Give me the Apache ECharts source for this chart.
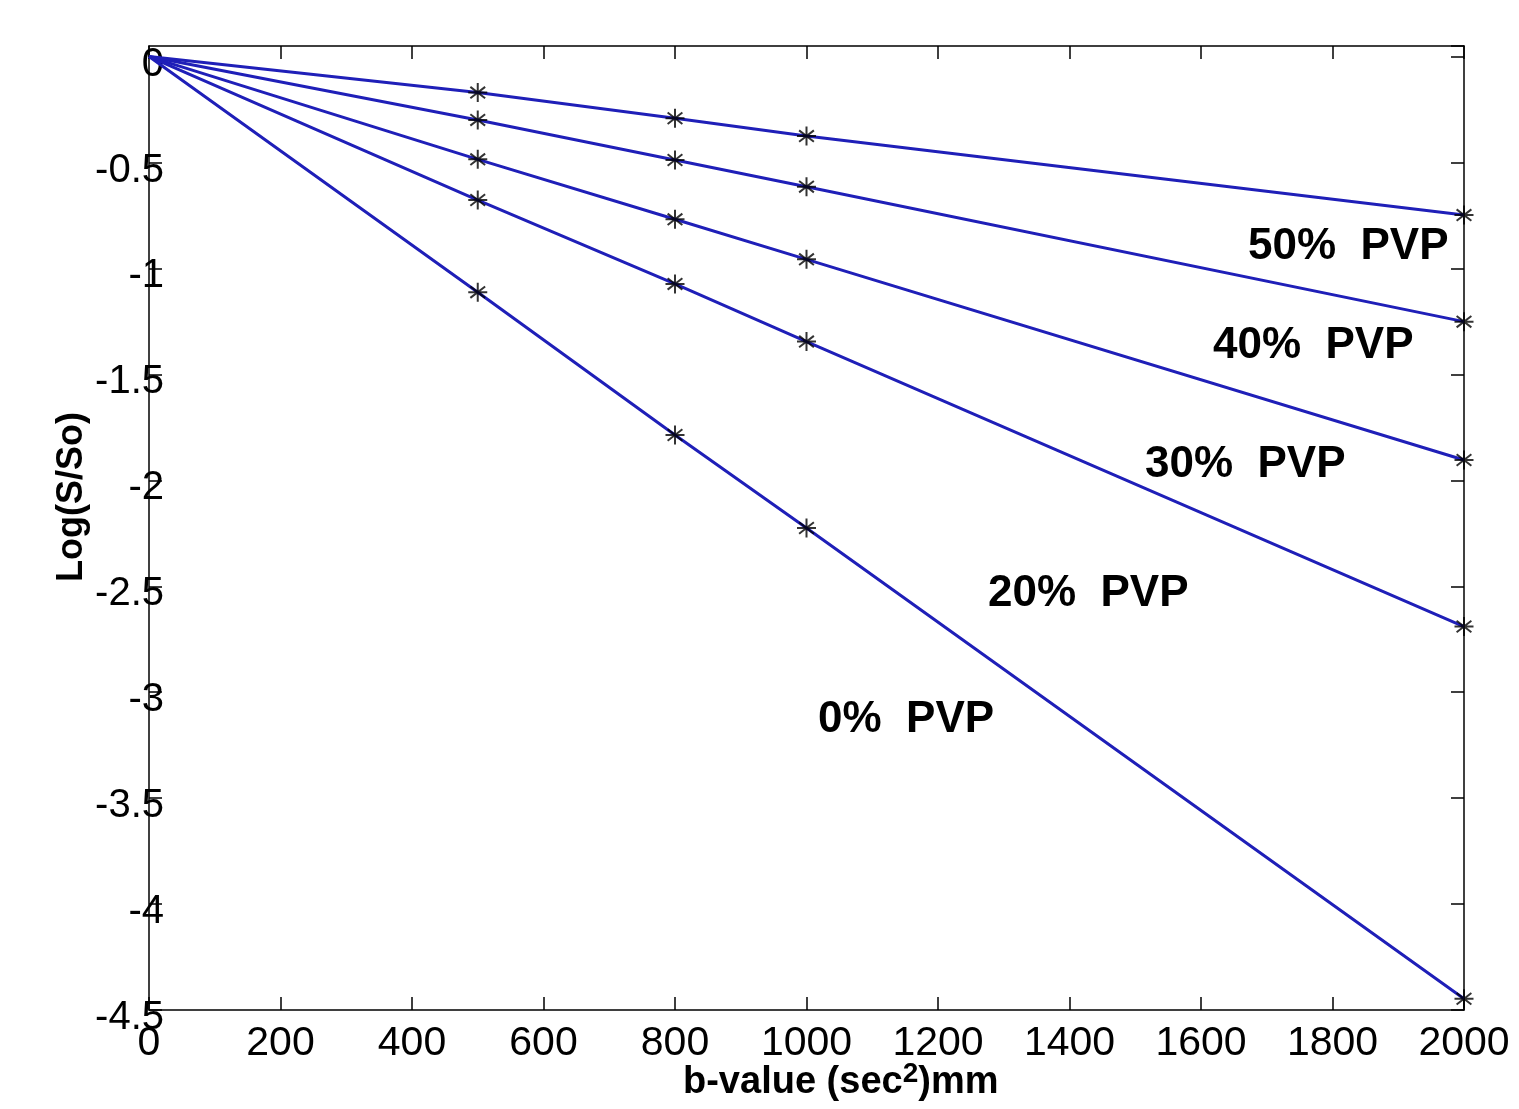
<!DOCTYPE html>
<html>
<head>
<meta charset="utf-8">
<script src="https://cdn.jsdelivr.net/npm/echarts@6/dist/echarts.min.js"></script>
<style>
  html, body { margin: 0; padding: 0; background: #fff; }
  #main { width: 1519px; height: 1109px; }
</style>
</head>
<body>
<div id="main"></div>
<script>
// b-values (sec/mm^2) where signal was measured
const bValues = [0, 500, 800, 1000, 2000];

// log(S/So), one array per PVP concentration
const pvp50 = [0, -0.170, -0.291, -0.375, -0.748];
const pvp40 = [0, -0.299, -0.488, -0.614, -1.251];
const pvp30 = [0, -0.485, -0.768, -0.957, -1.904];
const pvp20 = [0, -0.677, -1.073, -1.345, -2.690];
const pvp0 = [0, -1.112, -1.786, -2.225, -4.447];

const seriesNames = ['50% PVP', '40% PVP', '30% PVP', '20% PVP', '0% PVP'];
const seriesValues = [pvp50, pvp40, pvp30, pvp20, pvp0];

const FONT = 'Liberation Sans, Arial, sans-serif';
const STAR = 'path://M0,-10L0,10M-9,0L9,0M-7,-6L7,6M-7,6L7,-6';

const chart = echarts.init(document.getElementById('main'));

const series = [];
seriesValues.forEach((vals, i) => {
  const pts = bValues.map((b, k) => [b, vals[k]]);
  series.push({
    name: seriesNames[i],
    type: 'line',
    data: pts,
    showSymbol: false,
    symbol: 'none',
    lineStyle: { color: '#1f1fb8', width: 3 },
    z: 2
  });
  series.push({
    name: seriesNames[i] + ' pts',
    type: 'scatter',
    data: pts.slice(1),
    symbol: STAR,
    symbolSize: 19,
    itemStyle: { color: 'rgba(0,0,0,0)', borderColor: '#000', borderWidth: 2 },
    z: 3
  });
});

const labelPos = [
  [1248, 225], [1213, 324], [1145, 443], [988, 572], [818, 698]
];

const baseAxisX = {
  type: 'value',
  min: 0,
  max: 2000,
  interval: 200,
  axisLine: { show: true, onZero: false, lineStyle: { color: '#000', width: 1.5 } },
  axisTick: { show: true, inside: true, length: 13, lineStyle: { color: '#000', width: 1.5 } },
  splitLine: { show: false }
};
const baseAxisY = {
  type: 'value',
  min: -4.5,
  max: 0.05,
  interval: 0.5,
  axisLine: { show: true, onZero: false, lineStyle: { color: '#000', width: 1.5 } },
  axisTick: { show: true, inside: true, length: 13, lineStyle: { color: '#000', width: 1.5 } },
  splitLine: { show: false }
};

chart.setOption({
  animation: false,
  backgroundColor: '#fff',
  grid: { left: 149, top: 46, right: 55, bottom: 99, containLabel: false },
  xAxis: [
    Object.assign({}, baseAxisX, {
      position: 'bottom',
      axisLabel: {
        color: '#000', fontFamily: FONT, fontSize: 41, margin: 13,
        formatter: v => String(v)
      }
    }),
    Object.assign({}, baseAxisX, { position: 'top', axisLabel: { show: false } })
  ],
  yAxis: [
    Object.assign({}, baseAxisY, {
      position: 'left',
      axisLabel: {
        margin: -15,
        showMaxLabel: false,
        formatter: v => '{v|' + v + '}',
        rich: {
          v: { color: '#000', fontFamily: FONT, fontSize: 40, padding: [16, 0, 0, 0] }
        }
      }
    }),
    Object.assign({}, baseAxisY, { position: 'right', axisLabel: { show: false } })
  ],
  series: series,
  graphic: labelPos.map((p, i) => ({
    type: 'text',
    left: p[0],
    top: p[1],
    style: {
      text: seriesNames[i].replace(' ', '  '),
      fill: '#000',
      font: 'bold 44px ' + FONT
    },
    z: 10
  })).concat([
    {
      type: 'text',
      left: 683,
      top: 1060,
      style: {
        text: '{a|b-value (sec}{s|2}{a|)mm}',
        rich: {
          a: { font: 'bold 38px ' + FONT, fill: '#000' },
          s: { font: 'bold 28px ' + FONT, fill: '#000', verticalAlign: 'top', padding: [0, 0, 18, 0] }
        }
      },
      z: 10
    },
    {
      type: 'text',
      x: 72,
      y: 497,
      rotation: Math.PI / 2,
      style: {
        text: 'Log(S/So)',
        fill: '#000',
        font: 'bold 36px ' + FONT,
        align: 'center',
        verticalAlign: 'middle'
      },
      z: 10
    }
  ])
});
</script>
</body>
</html>
